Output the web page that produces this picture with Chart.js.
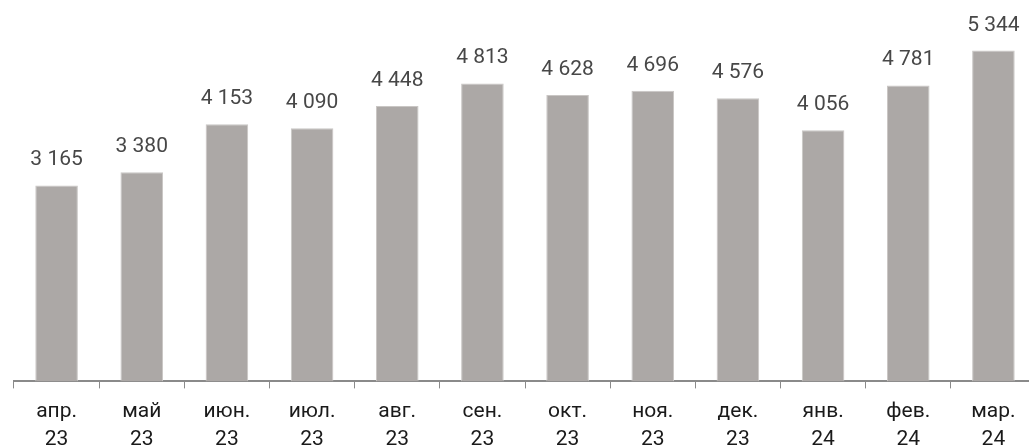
<!DOCTYPE html>
<html>
<head>
<meta charset="utf-8">
<script src="https://cdn.jsdelivr.net/npm/chart.js@4/dist/chart.umd.min.js"></script>
<style>
  html, body { margin: 0; padding: 0; background: #fff; overflow: hidden; }
  #wrap { position: relative; width: 1036px; height: 463px; }
</style>
</head>
<body>
<div id="wrap"><canvas id="c"></canvas></div>
<script>
const categories = [["апр.","23"],["май","23"],["июн.","23"],["июл.","23"],["авг.","23"],["сен.","23"],["окт.","23"],["ноя.","23"],["дек.","23"],["янв.","24"],["фев.","24"],["мар.","24"]];
const values = [3165, 3380, 4153, 4090, 4448, 4813, 4628, 4696, 4576, 4056, 4781, 5344];

const fmt = v => String(v).replace(/\B(?=(\d{3})+(?!\d))/g, ' ');

const valueLabels = {
  id: 'valueLabels',
  afterDatasetsDraw(chart) {
    const ctx = chart.ctx;
    const meta = chart.getDatasetMeta(0);
    ctx.save();
    ctx.font = '400 21px Roboto';
    ctx.fillStyle = '#474747';
    ctx.textAlign = 'center';
    ctx.textBaseline = 'alphabetic';
    meta.data.forEach((bar, i) => {
      ctx.fillText(fmt(values[i]), bar.x, bar.y - 20);
    });
    ctx.restore();
  }
};

new Chart(document.getElementById('c'), {
  type: 'bar',
  data: {
    labels: categories,
    datasets: [{
      data: values,
      backgroundColor: '#aca8a6',
      borderColor: '#c9c6c4',
      borderWidth: 1,
      barPercentage: 0.5,
      categoryPercentage: 1.0
    }]
  },
  options: {
    responsive: true,
    maintainAspectRatio: false,
    animation: false,
    devicePixelRatio: 1,
    layout: { padding: { left: 14, right: 0, top: 10, bottom: 0 } },
    plugins: { legend: { display: false }, tooltip: { enabled: false } },
    scales: {
      x: {
        offset: true,
        grid: { display: true, offset: true, drawOnChartArea: false, drawTicks: true, tickLength: 7, tickWidth: 1, tickColor: '#8a8a8a' },
        border: { display: true, color: '#8a8a8a', width: 2 },
        ticks: {
          color: '#1a1a1a',
          font: { family: 'Roboto', size: 21, weight: '400', lineHeight: 1.3 },
          padding: 10,
          maxRotation: 0,
          autoSkip: false
        }
      },
      y: {
        display: false,
        min: 0,
        max: 6000
      }
    }
  },
  plugins: [valueLabels]
});
</script>
</body>
</html>
